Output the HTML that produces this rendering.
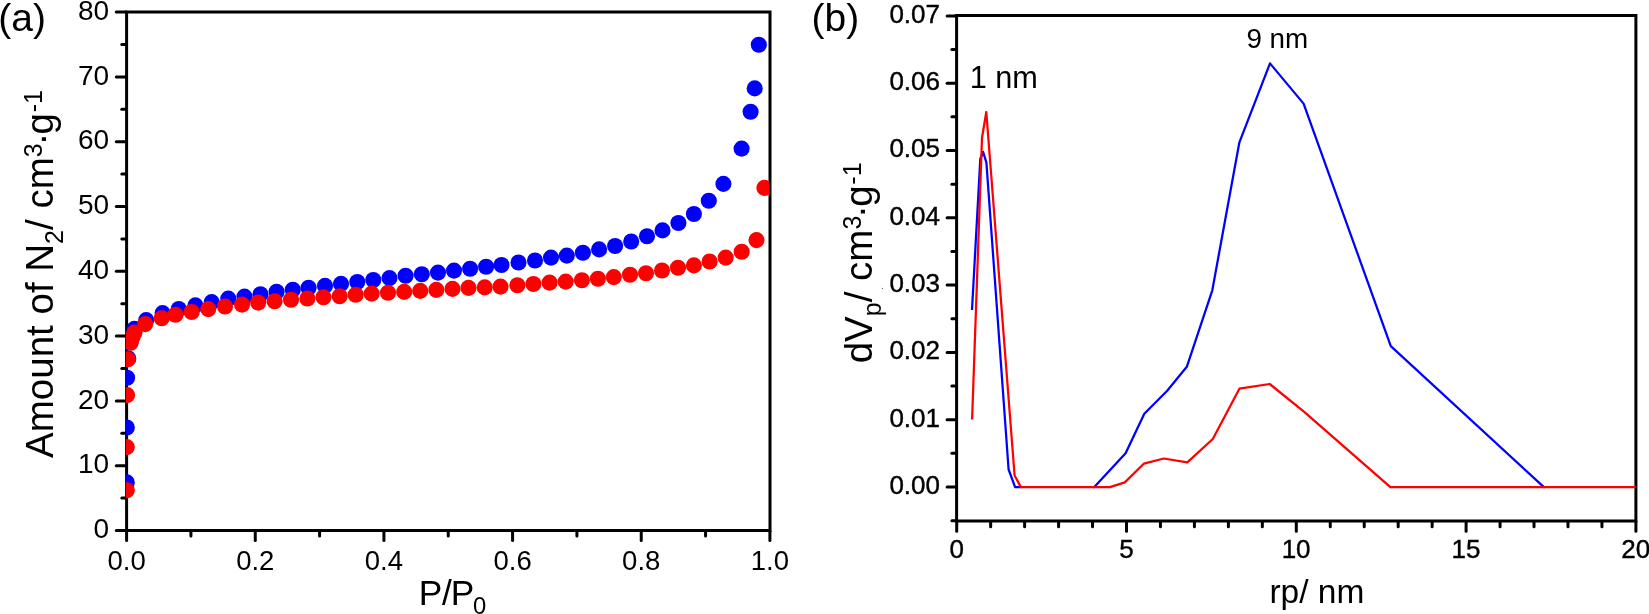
<!DOCTYPE html>
<html><head><meta charset="utf-8"><title>Figure</title>
<style>html,body{margin:0;padding:0;background:#fff;}svg{display:block;}text{font-family:"Liberation Sans", sans-serif;fill:#000;}</style>
</head><body>
<svg width="1649" height="614" viewBox="0 0 1649 614">
<rect x="0" y="0" width="1649" height="614" fill="#fff"/>
<defs><filter id="soft" x="0" y="0" width="1649" height="614" filterUnits="userSpaceOnUse"><feGaussianBlur stdDeviation="0.4"/></filter></defs>
<g filter="url(#soft)">
<g stroke="#000" stroke-width="3.00" stroke-linecap="round" fill="none">
<path d="M126.60 12.10 H770.00 V530.50 H126.60 Z" stroke-linejoin="miter"/>
<path d="M126.00 530.50 H116.30"/>
<path d="M126.00 498.10 H121.80"/>
<path d="M126.00 465.70 H116.30"/>
<path d="M126.00 433.30 H121.80"/>
<path d="M126.00 400.90 H116.30"/>
<path d="M126.00 368.50 H121.80"/>
<path d="M126.00 336.10 H116.30"/>
<path d="M126.00 303.70 H121.80"/>
<path d="M126.00 271.30 H116.30"/>
<path d="M126.00 238.90 H121.80"/>
<path d="M126.00 206.50 H116.30"/>
<path d="M126.00 174.10 H121.80"/>
<path d="M126.00 141.70 H116.30"/>
<path d="M126.00 109.30 H121.80"/>
<path d="M126.00 76.90 H116.30"/>
<path d="M126.00 44.50 H121.80"/>
<path d="M126.00 12.10 H116.30"/>
<path d="M126.60 531.10 V540.60"/>
<path d="M190.93 531.10 V536.10"/>
<path d="M255.26 531.10 V540.60"/>
<path d="M319.59 531.10 V536.10"/>
<path d="M383.92 531.10 V540.60"/>
<path d="M448.25 531.10 V536.10"/>
<path d="M512.58 531.10 V540.60"/>
<path d="M576.91 531.10 V536.10"/>
<path d="M641.24 531.10 V540.60"/>
<path d="M705.57 531.10 V536.10"/>
<path d="M769.90 531.10 V540.60"/>
</g>
<defs><clipPath id="ca"><rect x="125.90" y="12.10" width="643.70" height="518.40"/></clipPath></defs>
<g clip-path="url(#ca)">
<g fill="#0000ff">
<circle cx="126.8" cy="482.4" r="8.05"/>
<circle cx="126.8" cy="427.5" r="8.05"/>
<circle cx="127.1" cy="377.7" r="8.05"/>
<circle cx="128.3" cy="358.4" r="8.05"/>
<circle cx="131.0" cy="340.4" r="8.05"/>
<circle cx="134.5" cy="328.9" r="8.05"/>
<circle cx="146.2" cy="320.1" r="8.05"/>
<circle cx="162.6" cy="313.1" r="8.05"/>
<circle cx="178.8" cy="309.0" r="8.05"/>
<circle cx="195.4" cy="305.4" r="8.05"/>
<circle cx="211.7" cy="302.1" r="8.05"/>
<circle cx="228.3" cy="298.6" r="8.05"/>
<circle cx="244.5" cy="296.6" r="8.05"/>
<circle cx="260.5" cy="294.3" r="8.05"/>
<circle cx="276.6" cy="291.8" r="8.05"/>
<circle cx="292.8" cy="289.8" r="8.05"/>
<circle cx="308.6" cy="287.8" r="8.05"/>
<circle cx="325.0" cy="285.9" r="8.05"/>
<circle cx="341.0" cy="283.9" r="8.05"/>
<circle cx="357.3" cy="282.0" r="8.05"/>
<circle cx="373.3" cy="280.0" r="8.05"/>
<circle cx="389.5" cy="278.1" r="8.05"/>
<circle cx="405.6" cy="275.7" r="8.05"/>
<circle cx="421.8" cy="274.2" r="8.05"/>
<circle cx="438.0" cy="272.6" r="8.05"/>
<circle cx="454.0" cy="270.6" r="8.05"/>
<circle cx="470.1" cy="268.7" r="8.05"/>
<circle cx="486.1" cy="266.7" r="8.05"/>
<circle cx="501.5" cy="265.0" r="8.05"/>
<circle cx="518.5" cy="262.5" r="8.05"/>
<circle cx="535.0" cy="260.5" r="8.05"/>
<circle cx="551.0" cy="257.6" r="8.05"/>
<circle cx="566.8" cy="255.6" r="8.05"/>
<circle cx="582.9" cy="252.7" r="8.05"/>
<circle cx="599.1" cy="249.4" r="8.05"/>
<circle cx="615.1" cy="246.0" r="8.05"/>
<circle cx="631.2" cy="241.5" r="8.05"/>
<circle cx="647.0" cy="236.3" r="8.05"/>
<circle cx="662.5" cy="230.4" r="8.05"/>
<circle cx="678.4" cy="223.0" r="8.05"/>
<circle cx="693.9" cy="214.0" r="8.05"/>
<circle cx="708.8" cy="200.8" r="8.05"/>
<circle cx="723.4" cy="183.9" r="8.05"/>
<circle cx="741.6" cy="148.6" r="8.05"/>
<circle cx="750.6" cy="111.7" r="8.05"/>
<circle cx="754.7" cy="88.4" r="8.05"/>
<circle cx="758.8" cy="44.8" r="8.05"/>
</g><g fill="#ff0000">
<circle cx="126.8" cy="490.3" r="8.05"/>
<circle cx="126.8" cy="447.1" r="8.05"/>
<circle cx="127.1" cy="395.1" r="8.05"/>
<circle cx="127.9" cy="359.3" r="8.05"/>
<circle cx="130.6" cy="342.8" r="8.05"/>
<circle cx="132.6" cy="336.9" r="8.05"/>
<circle cx="134.5" cy="332.5" r="8.05"/>
<circle cx="145.2" cy="324.1" r="8.05"/>
<circle cx="161.7" cy="318.3" r="8.05"/>
<circle cx="175.5" cy="314.7" r="8.05"/>
<circle cx="191.7" cy="312.0" r="8.05"/>
<circle cx="208.3" cy="309.1" r="8.05"/>
<circle cx="225.0" cy="306.5" r="8.05"/>
<circle cx="242.0" cy="304.6" r="8.05"/>
<circle cx="258.2" cy="302.6" r="8.05"/>
<circle cx="274.6" cy="301.2" r="8.05"/>
<circle cx="291.0" cy="299.7" r="8.05"/>
<circle cx="307.4" cy="298.5" r="8.05"/>
<circle cx="323.5" cy="297.3" r="8.05"/>
<circle cx="339.7" cy="296.2" r="8.05"/>
<circle cx="355.7" cy="294.8" r="8.05"/>
<circle cx="371.7" cy="293.6" r="8.05"/>
<circle cx="388.0" cy="292.8" r="8.05"/>
<circle cx="404.2" cy="291.9" r="8.05"/>
<circle cx="420.2" cy="290.9" r="8.05"/>
<circle cx="436.3" cy="289.9" r="8.05"/>
<circle cx="452.5" cy="288.9" r="8.05"/>
<circle cx="468.5" cy="287.9" r="8.05"/>
<circle cx="484.7" cy="287.4" r="8.05"/>
<circle cx="500.5" cy="286.6" r="8.05"/>
<circle cx="517.4" cy="285.2" r="8.05"/>
<circle cx="533.4" cy="284.0" r="8.05"/>
<circle cx="549.6" cy="282.6" r="8.05"/>
<circle cx="565.7" cy="281.6" r="8.05"/>
<circle cx="581.9" cy="280.3" r="8.05"/>
<circle cx="597.9" cy="278.7" r="8.05"/>
<circle cx="613.8" cy="277.1" r="8.05"/>
<circle cx="630.0" cy="274.8" r="8.05"/>
<circle cx="646.0" cy="273.2" r="8.05"/>
<circle cx="662.0" cy="270.5" r="8.05"/>
<circle cx="678.0" cy="267.8" r="8.05"/>
<circle cx="693.9" cy="265.4" r="8.05"/>
<circle cx="709.6" cy="261.5" r="8.05"/>
<circle cx="725.7" cy="257.6" r="8.05"/>
<circle cx="741.7" cy="251.8" r="8.05"/>
<circle cx="756.5" cy="240.1" r="8.05"/>
<circle cx="764.4" cy="187.9" r="8.05"/>
</g></g>
<g font-size="28" text-anchor="end">
<text x="109.1" y="538.10">0</text>
<text x="109.1" y="473.30">10</text>
<text x="109.1" y="408.50">20</text>
<text x="109.1" y="343.70">30</text>
<text x="109.1" y="278.90">40</text>
<text x="109.1" y="214.10">50</text>
<text x="109.1" y="149.30">60</text>
<text x="109.1" y="84.50">70</text>
<text x="109.1" y="19.70">80</text>
</g>
<g font-size="27.5" text-anchor="middle">
<text x="126.60" y="569.9">0.0</text>
<text x="255.26" y="569.9">0.2</text>
<text x="383.92" y="569.9">0.4</text>
<text x="512.58" y="569.9">0.6</text>
<text x="641.24" y="569.9">0.8</text>
<text x="769.90" y="569.9">1.0</text>
</g>
<text x="-1.7" y="31.3" font-size="39">(a)</text>
<text transform="translate(53.0 457.9) rotate(-90)" font-size="38.5">Amount of N<tspan font-size="25" dy="10">2</tspan><tspan dy="-10">/ cm</tspan><tspan font-size="25" dy="-11">3</tspan><tspan dy="13" dx="-2.2">·</tspan><tspan dx="-1.8" dy="-2">g</tspan><tspan font-size="25" dy="-11" dx="0.8">-1</tspan></text>
<text x="418.8" y="605.1" font-size="35.3">P<tspan dx="-0.3">/</tspan><tspan dx="-1.2">P</tspan><tspan font-size="23.8" dy="9.3" dx="-1.2">0</tspan></text>
<g stroke="#000" stroke-width="3.00" stroke-linecap="round" fill="none">
<path d="M956.60 15.40 H1635.90 V520.90 H956.60 Z" stroke-linejoin="miter"/>
<path d="M956.00 520.65 H951.90"/>
<path d="M956.00 487.00 H947.10"/>
<path d="M956.00 453.35 H951.90"/>
<path d="M956.00 419.70 H947.10"/>
<path d="M956.00 386.05 H951.90"/>
<path d="M956.00 352.40 H947.10"/>
<path d="M956.00 318.75 H951.90"/>
<path d="M956.00 285.10 H947.10"/>
<path d="M956.00 251.45 H951.90"/>
<path d="M956.00 217.80 H947.10"/>
<path d="M956.00 184.15 H951.90"/>
<path d="M956.00 150.50 H947.10"/>
<path d="M956.00 116.85 H951.90"/>
<path d="M956.00 83.20 H947.10"/>
<path d="M956.00 49.55 H951.90"/>
<path d="M956.00 15.90 H947.10"/>
<path d="M956.70 521.50 V531.30"/>
<path d="M990.66 521.50 V526.70"/>
<path d="M1024.62 521.50 V526.70"/>
<path d="M1058.58 521.50 V526.70"/>
<path d="M1092.54 521.50 V526.70"/>
<path d="M1126.50 521.50 V531.30"/>
<path d="M1160.46 521.50 V526.70"/>
<path d="M1194.42 521.50 V526.70"/>
<path d="M1228.38 521.50 V526.70"/>
<path d="M1262.34 521.50 V526.70"/>
<path d="M1296.30 521.50 V531.30"/>
<path d="M1330.26 521.50 V526.70"/>
<path d="M1364.22 521.50 V526.70"/>
<path d="M1398.18 521.50 V526.70"/>
<path d="M1432.14 521.50 V526.70"/>
<path d="M1466.10 521.50 V531.30"/>
<path d="M1500.06 521.50 V526.70"/>
<path d="M1534.02 521.50 V526.70"/>
<path d="M1567.98 521.50 V526.70"/>
<path d="M1601.94 521.50 V526.70"/>
<path d="M1635.90 521.50 V531.30"/>
</g>
<path d="M972.0 310.0 L980.3 159.0 L983.1 151.8 L986.4 162.6 L1008.6 469.5 L1015.1 487.1 L1021.5 487.1" fill="none" stroke="#0000ff" stroke-width="2.25" stroke-linejoin="round" stroke-linecap="butt"/>
<path d="M1093.0 487.1 L1094.3 487.1 L1125.6 453.3 L1144.3 413.7 L1167.2 390.8 L1186.8 366.8 L1212.3 290.3 L1239.3 142.7 L1270.0 63.4 L1303.6 103.6 L1390.8 346.2 L1543.9 487.1 L1545.0 487.1" fill="none" stroke="#0000ff" stroke-width="2.25" stroke-linejoin="round" stroke-linecap="butt"/>
<path d="M972.1 419.5 L982.0 137.8 L986.3 112.0 L1014.6 475.5 L1020.9 487.1 L1110.0 487.1 L1124.8 482.4 L1143.8 463.7 L1163.9 458.5 L1187.3 462.4 L1212.8 439.0 L1239.4 388.7 L1269.7 384.0 L1304.2 411.8 L1390.4 487.1 L1635.9 487.1" fill="none" stroke="#ff0000" stroke-width="2.25" stroke-linejoin="round" stroke-linecap="butt"/>
<g font-size="26" text-anchor="end" stroke="#000" stroke-width="0.4">
<text x="940" y="493.80">0.00</text>
<text x="940" y="426.50">0.01</text>
<text x="940" y="359.20">0.02</text>
<text x="940" y="291.90">0.03</text>
<text x="940" y="224.60">0.04</text>
<text x="940" y="157.30">0.05</text>
<text x="940" y="90.00">0.06</text>
<text x="940" y="22.70">0.07</text>
</g>
<g font-size="26" text-anchor="middle" stroke="#000" stroke-width="0.4">
<text x="956.70" y="557.6">0</text>
<text x="1126.50" y="557.6">5</text>
<text x="1296.10" y="557.6">10</text>
<text x="1465.90" y="557.6">15</text>
<text x="1635.70" y="557.6">20</text>
</g>
<text x="811.5" y="30.9" font-size="39">(b)</text>
<text transform="translate(871.6 363.3) rotate(-90)" font-size="38.5">dV<tspan font-size="25" dy="9.7">p</tspan><tspan dy="-9.7">/ cm</tspan><tspan font-size="25" dy="-11">3</tspan><tspan dy="13" dx="-2.2">·</tspan><tspan dx="-1.8" dy="-2">g</tspan><tspan font-size="25" dy="-11" dx="0.8">-1</tspan></text>
<text x="1269.4" y="602.9" font-size="33.5">rp/ nm</text>
<circle cx="882.4" cy="288.3" r="0.65" fill="#505050"/>
<text x="969.7" y="87.6" font-size="30.7">1 nm</text>
<text x="1246.4" y="47.9" font-size="27.8">9 nm</text>
</g>
</svg>
</body></html>
